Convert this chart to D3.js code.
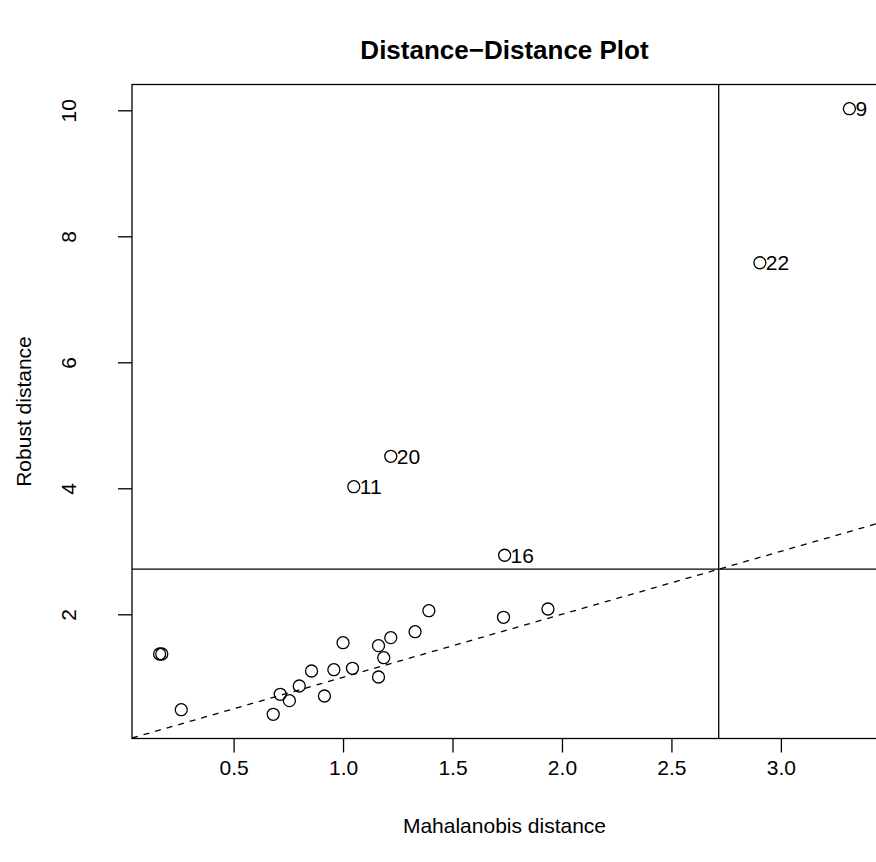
<!DOCTYPE html>
<html>
<head>
<meta charset="utf-8">
<script src="https://cdn.jsdelivr.net/npm/d3@7"></script>
<style>
  body { margin: 0; background: #fff; }
  svg text { font-family: "Liberation Sans", Arial, sans-serif; fill: #000; }
</style>
</head>
<body>
<svg id="chart" width="876" height="862"></svg>
<script>
// Mahalanobis (classical) and robust distances
const mahalanobis = [0.162, 0.172, 0.261, 0.681, 0.713, 0.755, 0.800, 0.856, 0.915, 0.958,
  1.000, 1.043, 1.162, 1.186, 1.162, 1.218, 1.329, 1.392, 1.733, 1.936,
  3.313, 2.904, 1.218, 1.049, 1.738];
const robust = [1.370, 1.370, 0.486, 0.413, 0.730, 0.629, 0.862, 1.100, 0.703, 1.121,
  1.549, 1.143, 1.502, 1.311, 1.005, 1.629, 1.724, 2.057, 1.952, 2.084,
  10.025, 7.58, 4.508, 4.025, 2.937];
const pointLabels = ["", "", "", "", "", "", "", "", "", "",
  "", "", "", "", "", "", "", "", "", "",
  "9", "22", "20", "11", "16"];
const cutoff = 2.716; // sqrt(qchisq(0.975, 2))
const xTicks = [0.5, 1.0, 1.5, 2.0, 2.5, 3.0];
const yTicks = [2, 4, 6, 8, 10];

const svg = d3.select("#chart");
const plotLeft = 132, plotRight = 877, plotTop = 84.5, plotBottom = 738.5;
const fs = 21;

// R-style 4% padding around the data range
function padded(vals) {
  const [lo, hi] = d3.extent(vals);
  const d = (hi - lo) * 0.04;
  return [lo - d, hi + d];
}

const x = d3.scaleLinear().domain(padded(mahalanobis)).range([plotLeft, plotRight]);
const y = d3.scaleLinear().domain(padded(robust)).range([plotBottom, plotTop]);

svg.append("defs").append("clipPath").attr("id", "plotclip")
  .append("rect").attr("x", plotLeft).attr("y", plotTop)
  .attr("width", plotRight - plotLeft).attr("height", plotBottom - plotTop);

const plot = svg.append("g").attr("clip-path", "url(#plotclip)");

// identity line
const [x0, x1] = x.domain();
plot.append("line")
  .attr("x1", x(x0)).attr("y1", y(x0))
  .attr("x2", x(x1)).attr("y2", y(x1))
  .attr("stroke", "#000").attr("stroke-width", 1.3)
  .attr("stroke-dasharray", "6,6");

// cutoff lines
plot.append("line")
  .attr("x1", x(cutoff)).attr("x2", x(cutoff))
  .attr("y1", plotTop).attr("y2", plotBottom)
  .attr("stroke", "#000").attr("stroke-width", 1.3);
plot.append("line")
  .attr("x1", plotLeft).attr("x2", plotRight)
  .attr("y1", y(cutoff)).attr("y2", y(cutoff))
  .attr("stroke", "#000").attr("stroke-width", 1.3);

// points
const pts = mahalanobis.map((m, i) => ({ m, r: robust[i], lab: pointLabels[i] }));
plot.selectAll("circle.pt")
  .data(pts)
  .enter()
  .append("circle")
  .attr("class", "pt")
  .attr("cx", (d) => x(d.m))
  .attr("cy", (d) => y(d.r))
  .attr("r", 6)
  .attr("fill", "none")
  .attr("stroke", "#000")
  .attr("stroke-width", 1.3);

// point labels (not clipped, like R's text())
svg.selectAll("text.lab")
  .data(pts.filter((d) => d.lab))
  .enter()
  .append("text")
  .attr("class", "lab")
  .attr("x", (d) => x(d.m) + 6)
  .attr("y", (d) => y(d.r))
  .attr("dy", "0.36em")
  .attr("font-size", fs)
  .text((d) => d.lab);

// box
svg.append("rect")
  .attr("x", plotLeft).attr("y", plotTop)
  .attr("width", plotRight - plotLeft).attr("height", plotBottom - plotTop)
  .attr("fill", "none").attr("stroke", "#000").attr("stroke-width", 1.3);

// axes
const xAxis = d3.axisBottom(x).tickValues(xTicks).tickSize(14).tickPadding(8)
  .tickFormat(d3.format(".1f"));
const gx = svg.append("g").attr("transform", `translate(0,${plotBottom})`).call(xAxis);
gx.select(".domain").remove();
gx.selectAll("line").attr("stroke-width", 1.3);
gx.selectAll("text").attr("font-size", fs).attr("font-family", "Liberation Sans, Arial, sans-serif");

const yAxis = d3.axisLeft(y).tickValues(yTicks).tickSize(14).tickFormat(d3.format("d"));
const gy = svg.append("g").attr("transform", `translate(${plotLeft},0)`).call(yAxis);
gy.select(".domain").remove();
gy.selectAll("line").attr("stroke-width", 1.3);
gy.selectAll("text")
  .attr("font-size", fs)
  .attr("font-family", "Liberation Sans, Arial, sans-serif")
  .attr("text-anchor", "middle")
  .attr("x", 0).attr("dy", 0)
  .attr("transform", "translate(-64,0) rotate(-90)")
  .attr("dominant-baseline", "central");

// titles
svg.append("text")
  .attr("x", (plotLeft + plotRight) / 2).attr("y", 59)
  .attr("text-anchor", "middle")
  .attr("font-size", 26).attr("font-weight", "bold")
  .text("Distance\u2212Distance Plot");

svg.append("text")
  .attr("x", (plotLeft + plotRight) / 2).attr("y", 833)
  .attr("text-anchor", "middle")
  .attr("font-size", fs)
  .text("Mahalanobis distance");

svg.append("text")
  .attr("transform", `translate(31,${(plotTop + plotBottom) / 2}) rotate(-90)`)
  .attr("text-anchor", "middle")
  .attr("font-size", fs)
  .text("Robust distance");
</script>
</body>
</html>
